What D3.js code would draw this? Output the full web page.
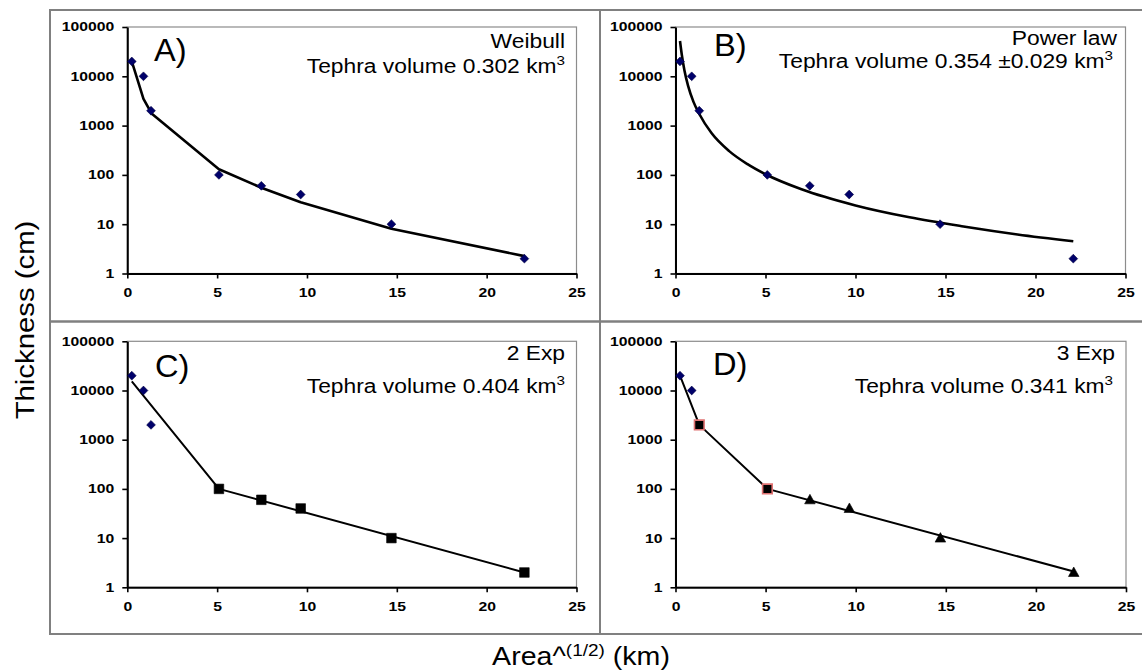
<!DOCTYPE html>
<html>
<head>
<meta charset="utf-8">
<script src="https://cdn.jsdelivr.net/npm/d3@7"></script>
<style>
body { margin: 0; background: #fff; }
svg { display: block; font-family: Arial, "Liberation Sans", sans-serif; }
</style>
</head>
<body>
<svg id="chart" width="1142" height="672"></svg>
<script>
// measured points, Area^(1/2) (km) vs thickness (cm)
var distance = [0.25, 0.9, 1.32, 5.1, 7.46, 9.65, 14.7, 22.1];
var thickness = [20000, 10000, 2000, 100, 60, 40, 10, 2];

var yTicks = [1, 10, 100, 1000, 10000, 100000];
var xTicks = [0, 5, 10, 15, 20, 25];

// fitted curves
var weibullX = [0.25, 0.9, 1.35, 5.1, 7.46, 9.65, 14.7, 22.1];
var weibullY = [20000, 3500, 1760, 130, 55, 28, 8.1, 2.25];

var powerX = [0.25, 0.35, 0.5, 0.7, 1, 1.33, 2, 3, 4, 5, 7, 10, 13, 16, 19, 22.1];
var powerY = [52000, 27400, 13000, 6400, 3030, 1700, 705, 300, 165, 103, 51, 24, 13.8, 9, 6.2, 4.5];

var twoExpX = [0.25, 5.1, 22.1];
var twoExpY = [15300, 100, 2];

var threeExpX = [0.25, 1.32, 5.1, 22.1];
var threeExpY = [20000, 2000, 100, 2.1];

// marker type of each point, per panel
var markersA = ["diamond", "diamond", "diamond", "diamond", "diamond", "diamond", "diamond", "diamond"];
var markersB = markersA;
var markersC = ["diamond", "diamond", "diamond", "square", "square", "square", "square", "square"];
var markersD = ["diamond", "diamond", "redsquare", "redsquare", "triangle", "triangle", "triangle", "triangle"];

var panels = [
    {left: 127.3, right: 576.5, top: 27, bottom: 273.5, letter: "A)", lx: 154, ly: 61,
     name: "Weibull", volume: "Tephra volume 0.302 km", nx: 565, tx: 565, ny: 48, vy: 73,
     fitX: weibullX, fitY: weibullY, markers: markersA, smooth: false, lw: 2.6},
    {left: 675.5, right: 1125.5, top: 27, bottom: 273.5, letter: "B)", lx: 714, ly: 56,
     name: "Power law", volume: "Tephra volume 0.354 \u00b10.029 km", nx: 1117, tx: 1113, ny: 45, vy: 68,
     fitX: powerX, fitY: powerY, markers: markersB, smooth: true, lw: 2.6},
    {left: 127.3, right: 576.5, top: 341.3, bottom: 587.3, letter: "C)", lx: 155, ly: 377,
     name: "2 Exp", volume: "Tephra volume 0.404 km", nx: 565, tx: 565, ny: 360, vy: 393,
     fitX: twoExpX, fitY: twoExpY, markers: markersC, smooth: false, lw: 2},
    {left: 675.5, right: 1126, top: 341.3, bottom: 587.3, letter: "D)", lx: 713, ly: 375,
     name: "3 Exp", volume: "Tephra volume 0.341 km", nx: 1115, tx: 1113, ny: 360, vy: 393,
     fitX: threeExpX, fitY: threeExpY, markers: markersD, smooth: false, lw: 2}
];

var svg = d3.select("#chart");

// outer frame and dividers
var frame = svg.append("g").attr("stroke", "#808080").attr("stroke-width", 2).attr("fill", "none");
frame.append("path").attr("d", "M1150,10H50V634H1150");
frame.append("line").attr("x1", 600).attr("x2", 600).attr("y1", 10).attr("y2", 634);
frame.append("line").attr("x1", 50).attr("x2", 1150).attr("y1", 321.5).attr("y2", 321.5)
    .attr("stroke-width", 2.5);

function markerPath(type) {
    if (type === "diamond") return "M0,-4.4L4.4,0L0,4.4L-4.4,0Z";
    if (type === "triangle") return "M0,-5.5L5.3,4L-5.3,4Z";
    return "M-4.8,-4.8H4.8V4.8H-4.8Z";
}

panels.forEach(function(p) {
    var g = svg.append("g");

    var x = d3.scaleLinear().domain([0, 25]).range([p.left, p.right]);
    var y = d3.scaleLog().domain([1, 100000]).range([p.bottom, p.top]);

    // plot area border
    g.append("rect")
        .attr("x", p.left).attr("y", p.top)
        .attr("width", p.right - p.left).attr("height", p.bottom - p.top)
        .attr("fill", "none").attr("stroke", "#8c8c8c").attr("stroke-width", 1.2);

    // axes
    var yAxis = g.append("g")
        .attr("transform", "translate(" + p.left + ",0)")
        .call(d3.axisLeft(y).tickValues(yTicks).tickSize(5).tickSizeOuter(0)
            .tickFormat(d3.format("d")));
    var xAxis = g.append("g")
        .attr("transform", "translate(0," + p.bottom + ")")
        .call(d3.axisBottom(x).tickValues(xTicks).tickSize(5).tickSizeOuter(0).tickPadding(10));

    [yAxis, xAxis].forEach(function(a) {
        a.select(".domain").attr("stroke", "#000").attr("stroke-width", 2);
        a.selectAll(".tick line").attr("stroke", "#000").attr("stroke-width", 1.6);
        a.selectAll(".tick text")
            .attr("fill", "#000")
            .style("font-size", "12.3px")
            .style("font-weight", "bold")
            .attr("transform", "scale(1.28,1)");
    });
    yAxis.selectAll(".tick text").attr("x", -13 / 1.28);

    // fitted line
    var pts = p.fitX.map(function(d, i) { return [d, p.fitY[i]]; });
    var line = d3.line()
        .x(function(d) { return x(d[0]); })
        .y(function(d) { return y(d[1]); })
        .curve(p.smooth ? d3.curveMonotoneX : d3.curveLinear);
    g.append("path")
        .attr("d", line(pts))
        .attr("fill", "none")
        .attr("stroke", "#000")
        .attr("stroke-width", p.lw)
        .attr("stroke-linejoin", "round");

    // data points
    g.selectAll(".pt")
        .data(distance)
        .enter().append("path")
        .attr("class", "pt")
        .attr("transform", function(d, i) { return "translate(" + x(d) + "," + y(thickness[i]) + ")"; })
        .attr("d", function(d, i) { return markerPath(p.markers[i]); })
        .attr("fill", function(d, i) { return p.markers[i] === "diamond" ? "#00006a" : "#000"; })
        .attr("stroke", function(d, i) {
            var m = p.markers[i];
            if (m === "redsquare") return "#e07272";
            if (m === "diamond") return "#000040";
            return "#000";
        })
        .attr("stroke-width", function(d, i) { return p.markers[i] === "redsquare" ? 1.6 : 0.6; });

    // panel letter
    g.append("text")
        .attr("transform", "translate(" + p.lx + "," + p.ly + ") scale(1.07,1)")
        .style("font-size", "30.5px")
        .text(p.letter);

    // model name and volume
    g.append("text")
        .attr("transform", "translate(" + p.nx + "," + p.ny + ") scale(1.17,1)")
        .attr("text-anchor", "end")
        .style("font-size", "19.5px")
        .text(p.name);
    var vt = g.append("text")
        .attr("transform", "translate(" + p.tx + "," + p.vy + ") scale(1.17,1)")
        .attr("text-anchor", "end")
        .style("font-size", "19.5px");
    vt.append("tspan").text(p.volume);
    vt.append("tspan").attr("dy", -8).style("font-size", "13px").text("3");
});

// axis titles
var xt = svg.append("text")
    .attr("transform", "translate(581,665) scale(1.12,1)")
    .attr("text-anchor", "middle")
    .style("font-size", "25.5px");
xt.append("tspan").text("Area^");
xt.append("tspan").attr("dy", -9).style("font-size", "17px").text("(1/2)");
xt.append("tspan").attr("dy", 9).text(" (km)");

svg.append("text")
    .attr("transform", "translate(34,320) rotate(-90) scale(1.15,1)")
    .attr("text-anchor", "middle")
    .style("font-size", "25.5px")
    .text("Thickness (cm)");
</script>
</body>
</html>
